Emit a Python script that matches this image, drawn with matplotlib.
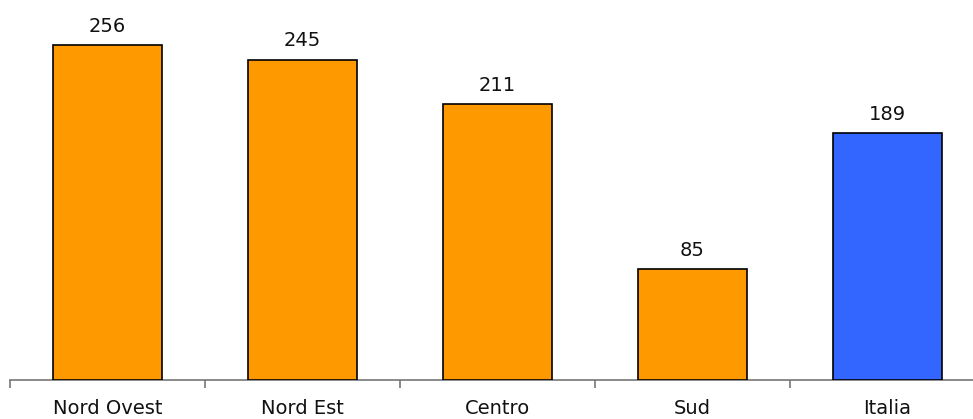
import matplotlib
matplotlib.use("Agg")
import matplotlib.pyplot as plt

categories = ["Nord Ovest", "Nord Est", "Centro", "Sud", "Italia"]
values = [256, 245, 211, 85, 189]
colors = ["#FF9900", "#FF9900", "#FF9900", "#FF9900", "#3366FF"]

W, H = 973, 419
fig = plt.figure(figsize=(W / 100, H / 100), dpi=100)
ax = fig.add_axes([10 / W, (H - 380) / H, 975 / W, 380 / H])

x = list(range(len(categories)))
ax.bar(x, values, width=0.555, color=colors, edgecolor="black", linewidth=1.2, zorder=3)
for xi, v in zip(x, values):
    ax.annotate(str(v), (xi, v), xytext=(0, 6.5), textcoords="offset points",
                ha="center", va="bottom", fontsize=14, color="#111111")

ax.set_xlim(-0.5, len(categories) - 0.5)
ax.set_ylim(0, 290.5)
for s in ["top", "right", "left"]:
    ax.spines[s].set_visible(False)
ax.spines["bottom"].set_color("#777777")
ax.spines["bottom"].set_linewidth(1.2)
ax.set_yticks([])
ax.set_xticks([i - 0.5 for i in range(len(categories) + 1)])
ax.set_xticklabels([])
ax.set_xticks(x, minor=True)
ax.set_xticklabels(categories, minor=True, fontsize=14, color="#111111")
ax.tick_params(axis="x", which="major", length=6, width=1.2, color="#777777", direction="out")
ax.tick_params(axis="x", which="minor", length=0, pad=13.5)

fig.savefig("out.png", dpi=100)
